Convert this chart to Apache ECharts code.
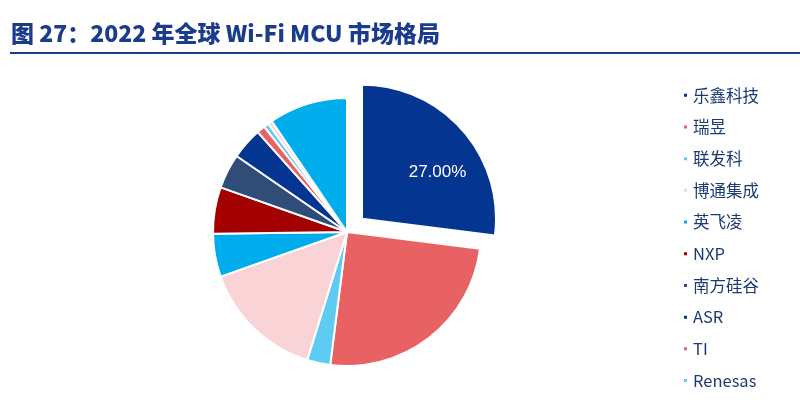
<!DOCTYPE html>
<html>
<head>
<meta charset="utf-8">
<script src="https://cdn.jsdelivr.net/npm/echarts@6/dist/echarts.min.js"></script>
<style>
html,body{margin:0;padding:0;background:#fff;}
#c{width:800px;height:411px;}
</style>
</head>
<body>
<div id="c"></div>
<script>
const titleText = '图 27：2022 年全球 Wi-Fi MCU 市场格局';
const names = ['乐鑫科技','瑞昱','联发科','博通集成','英飞凌','NXP','南方硅谷','ASR','TI','Renesas','其他厂商','其他'];
const shares = [27.0, 25.0, 2.8, 14.8, 5.2, 5.6, 4.2, 3.8, 1.0, 0.6, 0.5, 9.5];
const legendNames = ['乐鑫科技','瑞昱','联发科','博通集成','英飞凌','NXP','南方硅谷','ASR','TI','Renesas'];
const palette = ['#033591','#e86163','#5ecbf3','#f9d3d6','#00adec','#a30000','#2f4d77'];

const chart = echarts.init(document.getElementById('c'));
const data = names.map((n, i) => ({
  name: n,
  value: shares[i],
  selected: i === 0,
  itemStyle: { color: palette[i % palette.length] },
  label: i === 0 ? { show: true } : { show: false }
}));

chart.setOption({
  animation: false,
  title: {
    text: titleText,
    left: 6,
    top: 17,
    textStyle: { fontFamily: 'Noto Sans CJK SC', fontSize: 23, fontWeight: 900, color: '#1b3c8c' }
  },
  graphic: [{
    type: 'rect',
    shape: { x: 10, y: 52, width: 790, height: 2 },
    style: { fill: '#1b3c8c' }
  }],
  legend: {
    orient: 'vertical',
    left: 677,
    top: 82,
    itemWidth: 5,
    itemHeight: 5,
    itemGap: 15.2,
    icon: 'rect',
    data: legendNames,
    textStyle: { fontFamily: 'Noto Sans CJK SC', fontSize: 16.5, lineHeight: 16, color: '#1c3a72' }
  },
  series: [{
    type: 'pie',
    center: [347, 232],
    radius: [0, 134],
    startAngle: 90,
    clockwise: true,
    selectedMode: 'single',
    selectedOffset: 20,
    avoidLabelOverlap: false,
    itemStyle: { borderColor: '#fff', borderWidth: 2 },
    label: {
      position: 'inside',
      formatter: p => p.value.toFixed(2) + '%',
      color: '#fff',
      fontFamily: 'Liberation Sans',
      fontSize: 17,
      padding: [0, 0, 6, 46]
    },
    labelLine: { show: false },
    emphasis: { disabled: true },
    data: data
  }]
});
</script>
</body>
</html>
